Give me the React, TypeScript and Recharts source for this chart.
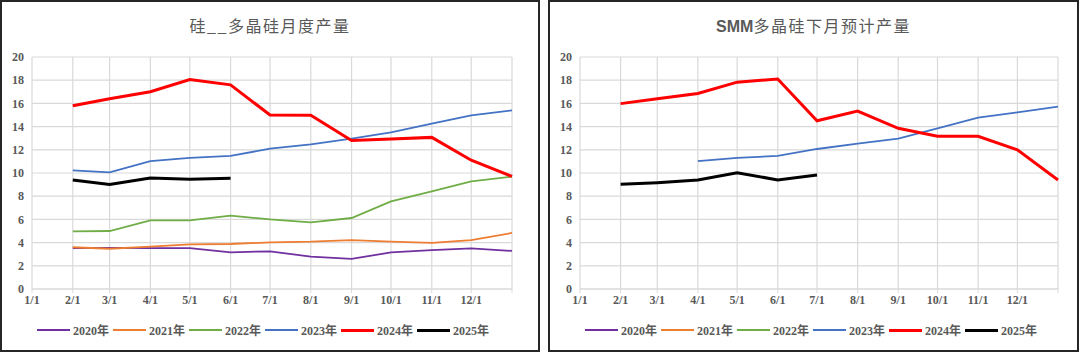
import React from 'react';
import { LineChart, Line, XAxis, YAxis, CartesianGrid } from 'recharts';

// x positions: day-of-year of each plotted point (2/1 ... 12/1, year end)
const pointDays = [31, 59, 90, 120, 151, 181, 212, 243, 273, 304, 334, 365];
const tickDays = [0, 31, 59, 90, 120, 151, 181, 212, 243, 273, 304, 334, 365];
const tickLabels = ['1/1', '2/1', '3/1', '4/1', '5/1', '6/1', '7/1', '8/1', '9/1', '10/1', '11/1', '12/1', ''];
const yTicks = [0, 2, 4, 6, 8, 10, 12, 14, 16, 18, 20];

const seriesNames = ['2020年', '2021年', '2022年', '2023年', '2024年', '2025年'];
const seriesColors = ['#7030A0', '#ED7D31', '#70AD47', '#4472C4', '#FF0000', '#000000'];
const seriesWidths = [1.8, 1.8, 1.8, 1.8, 3, 3];

// Left chart: 硅__多晶硅月度产量
const left2020 = [3.53, 3.55, 3.53, 3.53, 3.16, 3.25, 2.79, 2.59, 3.16, 3.36, 3.5, 3.28];
const left2021 = [3.6, 3.47, 3.65, 3.85, 3.88, 4.02, 4.08, 4.22, 4.08, 3.97, 4.22, 4.83];
const left2022 = [4.97, 5.0, 5.92, 5.92, 6.32, 6.0, 5.75, 6.12, 7.56, 8.42, 9.28, 9.68];
const left2023 = [10.23, 10.06, 11.03, 11.3, 11.47, 12.1, 12.47, 12.96, 13.5, 14.25, 14.97, 15.4];
const left2024 = [15.8, 16.4, 17.0, 18.05, 17.6, 15.0, 14.97, 12.8, 12.93, 13.07, 11.1, 9.7];
const left2025 = [9.4, 9.0, 9.57, 9.47, 9.55, null, null, null, null, null, null, null];

// Right chart: SMM多晶硅下月预计产量
const right2020 = [null, null, null, null, null, null, null, null, null, null, null, null];
const right2021 = [null, null, null, null, null, null, null, null, null, null, null, null];
const right2022 = [null, null, null, null, null, null, null, null, null, null, null, null];
const right2023 = [null, null, 11.03, 11.3, 11.47, 12.07, 12.53, 12.97, 13.85, 14.77, 15.23, 15.72];
const right2024 = [15.98, 16.4, 16.85, 17.83, 18.1, 14.5, 15.34, 13.85, 13.16, 13.16, 12.0, 9.4];
const right2025 = [9.02, 9.17, 9.4, 10.03, 9.4, 9.83, null, null, null, null, null, null];

const buildRows = (series: (number | null)[][]) =>
  pointDays.map((d, i) => {
    const row: Record<string, number | null> = { d };
    series.forEach((s, k) => {
      row['s' + k] = s[i];
    });
    return row;
  });

const leftRows = buildRows([left2020, left2021, left2022, left2023, left2024, left2025]);
const rightRows = buildRows([right2020, right2021, right2022, right2023, right2024, right2025]);

const labelFont = "'Liberation Serif', 'Noto Sans CJK SC', serif";
const gray = '#595959';

function Legend2() {
  return (
    <div
      style={{
        position: 'absolute',
        left: 35,
        top: 319,
        display: 'flex',
        alignItems: 'center',
        fontFamily: labelFont,
        fontSize: 12,
        fontWeight: 'bold',
        color: gray,
      }}
    >
      {seriesNames.map((n, i) => (
        <div key={n} style={{ display: 'flex', alignItems: 'center', width: 76 }}>
          <div style={{ width: 33, height: seriesWidths[i] > 2 ? 3 : 2, background: seriesColors[i], marginRight: 3 }} />
          <span>{n}</span>
        </div>
      ))}
    </div>
  );
}

function Panel({ prefix, title, rows, width, left, rightMargin }: { prefix?: string; title: string; rows: any[]; width: number; left: number; rightMargin: number }) {
  const innerW = width - 4;
  const innerH = 348;
  return (
    <div
      style={{
        position: 'absolute',
        left,
        top: 0,
        width: innerW,
        height: innerH,
        border: '2px solid #262626',
        background: '#fff',
      }}
    >
      <div
        style={{
          position: 'absolute',
          left: 0,
          top: 11,
          width: innerW,
          textAlign: 'center',
          fontFamily: "'Noto Sans CJK SC', sans-serif",
          fontSize: 16,
          letterSpacing: 1.5,
          color: gray,
        }}
      >
        {prefix ? <span style={{ fontFamily: "'Liberation Sans Narrow', 'Liberation Sans', sans-serif", fontWeight: 'bold', letterSpacing: 0 }}>{prefix}</span> : null}
        {title}
      </div>
      <LineChart width={innerW} height={innerH} data={rows} margin={{ top: 55, right: rightMargin, bottom: 41, left: 0 }}>
        <CartesianGrid stroke="#d9d9d9" strokeWidth={1.2} />
        <XAxis
          type="number"
          dataKey="d"
          domain={[0, 365]}
          ticks={tickDays}
          interval={0}
          tickFormatter={(v: number) => tickLabels[tickDays.indexOf(v)] ?? ''}
          axisLine={{ stroke: '#d9d9d9' }}
          tickLine={{ stroke: '#d9d9d9' }}
          tickSize={4}
          tickMargin={2}
          tick={{ fill: gray, fontSize: 12, fontFamily: labelFont, fontWeight: 'bold' }}
          height={20}
        />
        <YAxis
          type="number"
          domain={[0, 20]}
          ticks={yTicks}
          interval={0}
          axisLine={false}
          tickLine={false}
          width={30}
          tickSize={6}
          tickMargin={2}
          tick={{ fill: gray, fontSize: 12, fontFamily: labelFont, fontWeight: 'bold' }}
        />
        {seriesNames.map((n, i) => (
          <Line
            key={n}
            type="linear"
            dataKey={'s' + i}
            name={n}
            stroke={seriesColors[i]}
            strokeWidth={seriesWidths[i]}
            dot={false}
            activeDot={false}
            isAnimationActive={false}
            connectNulls={false}
          />
        ))}
      </LineChart>
      <Legend2 />
    </div>
  );
}

export default function App() {
  return (
    <div style={{ position: 'absolute', left: 0, top: 0, width: 1080, height: 352, background: '#fff' }}>
      <Panel title="硅__多晶硅月度产量" rows={leftRows} width={540} left={0} rightMargin={26} />
      <Panel prefix="SMM" title="多晶硅下月预计产量" rows={rightRows} width={531} left={548} rightMargin={19} />
    </div>
  );
}
